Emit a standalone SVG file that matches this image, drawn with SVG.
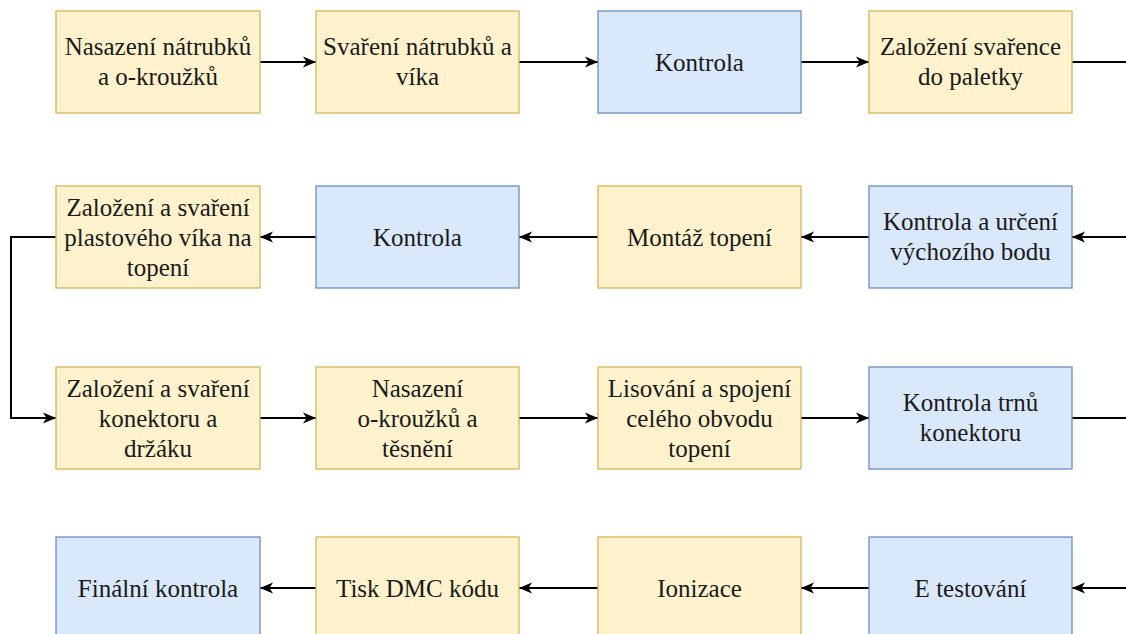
<svg xmlns="http://www.w3.org/2000/svg" width="1126" height="634" viewBox="0 0 1126 634">
<defs>
<style>
.y{fill:#fff2cc;stroke:#d6b656;stroke-width:1.3}
.b{fill:#dae8fc;stroke:#6c8ebf;stroke-width:1.3}
text{font-family:"Liberation Serif","Times New Roman","DejaVu Serif",serif;font-size:25px;fill:#1a1a1a;text-anchor:middle}
.c{fill:none;stroke:#000;stroke-width:2}
</style>
<marker id="a" markerUnits="userSpaceOnUse" viewBox="0 0 14 12" markerWidth="14" markerHeight="12" refX="13" refY="6" orient="auto">
<path d="M0,0.5 L13,6 L0,11.5 L3.5,6 Z" fill="#000"/>
</marker>
</defs>
<rect width="1126" height="634" fill="#fff"/>
<g id="connectors">
<path class="c" d="M260,62 H316" marker-end="url(#a)"/>
<path class="c" d="M519,62 H598" marker-end="url(#a)"/>
<path class="c" d="M801,62 H869" marker-end="url(#a)"/>
<path class="c" d="M1072,62 H1130"/>
<path class="c" d="M1130,237 H1072" marker-end="url(#a)"/>
<path class="c" d="M869,237 H801" marker-end="url(#a)"/>
<path class="c" d="M598,237 H519" marker-end="url(#a)"/>
<path class="c" d="M316,237 H260" marker-end="url(#a)"/>
<path class="c" d="M56,237 H11 V418 H56" marker-end="url(#a)"/>
<path class="c" d="M260,418 H316" marker-end="url(#a)"/>
<path class="c" d="M519,418 H598" marker-end="url(#a)"/>
<path class="c" d="M801,418 H869" marker-end="url(#a)"/>
<path class="c" d="M1072,418 H1130"/>
<path class="c" d="M1130,588 H1072" marker-end="url(#a)"/>
<path class="c" d="M869,588 H801" marker-end="url(#a)"/>
<path class="c" d="M598,588 H519" marker-end="url(#a)"/>
<path class="c" d="M316,588 H260" marker-end="url(#a)"/>
</g>
<g id="n1"><rect class="y" x="56" y="11" width="204" height="102"/><text x="158" y="55">Nasazení nátrubků</text><text x="158" y="85">a o-kroužků</text></g>
<g id="n2"><rect class="y" x="316" y="11" width="203" height="102"/><text x="417.5" y="55">Svaření nátrubků a</text><text x="417.5" y="85">víka</text></g>
<g id="n3"><rect class="b" x="598" y="11" width="203" height="102"/><text x="699.5" y="71">Kontrola</text></g>
<g id="n4"><rect class="y" x="869" y="11" width="203" height="102"/><text x="970.5" y="55">Založení svařence</text><text x="970.5" y="85">do paletky</text></g>
<g id="n5"><rect class="b" x="869" y="186" width="203" height="102"/><text x="970.5" y="230">Kontrola a určení</text><text x="970.5" y="260">výchozího bodu</text></g>
<g id="n6"><rect class="y" x="598" y="186" width="203" height="102"/><text x="699.5" y="246">Montáž topení</text></g>
<g id="n7"><rect class="b" x="316" y="186" width="203" height="102"/><text x="417.5" y="246">Kontrola</text></g>
<g id="n8"><rect class="y" x="56" y="186" width="204" height="102"/><text x="158" y="216">Založení a svaření</text><text x="158" y="246">plastového víka na</text><text x="158" y="276">topení</text></g>
<g id="n9"><rect class="y" x="56" y="367" width="204" height="102"/><text x="158" y="397">Založení a svaření</text><text x="158" y="427">konektoru a</text><text x="158" y="457">držáku</text></g>
<g id="n10"><rect class="y" x="316" y="367" width="203" height="102"/><text x="417.5" y="397">Nasazení</text><text x="417.5" y="427">o-kroužků a</text><text x="417.5" y="457">těsnění</text></g>
<g id="n11"><rect class="y" x="598" y="367" width="203" height="102"/><text x="699.5" y="397">Lisování a spojení</text><text x="699.5" y="427">celého obvodu</text><text x="699.5" y="457">topení</text></g>
<g id="n12"><rect class="b" x="869" y="367" width="203" height="102"/><text x="970.5" y="411">Kontrola trnů</text><text x="970.5" y="441">konektoru</text></g>
<g id="n13"><rect class="b" x="869" y="537" width="203" height="102"/><text x="970.5" y="597">E testování</text></g>
<g id="n14"><rect class="y" x="598" y="537" width="203" height="102"/><text x="699.5" y="597">Ionizace</text></g>
<g id="n15"><rect class="y" x="316" y="537" width="203" height="102"/><text x="417.5" y="597">Tisk DMC kódu</text></g>
<g id="n16"><rect class="b" x="56" y="537" width="204" height="102"/><text x="158" y="597">Finální kontrola</text></g>
</svg>
